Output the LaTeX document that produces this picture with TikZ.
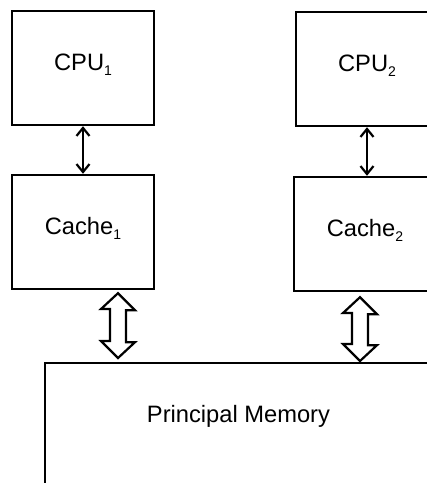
\documentclass[tikz,border=0pt]{standalone}
\usepackage{fontspec}
\setmainfont{Liberation Sans}
\usetikzlibrary{calc,arrows.meta}

\newcommand\lowsub[1]{\raisebox{-5pt}{\fontsize{14}{14}\selectfont #1}}

\tikzset{
  unit/.style={draw,line width=2.4pt,minimum width=142pt,minimum height=114pt,
    text height=19pt,text depth=15pt,inner sep=0pt,
    font=\fontsize{23.7}{28}\selectfont},
  link/.style={line width=2.2pt,
    {Straight Barb[length=8pt,width=13pt]}-{Straight Barb[length=8pt,width=13pt]}},
  bus/.style={draw,line width=2.2pt,fill=white,line join=miter}
}

\begin{document}
\begin{tikzpicture}[x=1pt,y=-1pt]
      \useasboundingbox (0,0) rectangle (427,483);
      \clip (0,0) rectangle (427,483);

      \node[unit] (cpu1) at (83,68) {CPU\lowsub{1}};
      \node[unit] (cpu2) at (367,69) {CPU\lowsub{2}};
      \node[unit] (cache1) at (83,232) {Cache\lowsub{1}};
      \node[unit] (cache2) at (365,234) {Cache\lowsub{2}};
      \node[unit,anchor=north,minimum width=387pt,minimum height=0pt,
        text height=17pt,text depth=100pt,inner ysep=42pt] (mem) at (238.5,362) {Principal Memory};

      \draw[link] (cpu1) -- (cache1);
      \draw[link] (cpu2.south) -- (cpu2.south |- cache2.north);

      % wide buses to the memory
      \coordinate (bus1a) at ($(cache1.south)+(35,3)$);
      \coordinate (bus1b) at ($(bus1a |- mem.north)+(0,-4)$);
      \coordinate (bus2a) at ($(cache2.south)+(-5,5)$);
      \coordinate (bus2b) at ($(bus2a |- mem.north)+(0,-1)$);
      \draw[bus] (bus1a) -- ++(17,17) -- ++(-9,0) -- ++(0,32) -- ++(9,0) -- (bus1b)
        -- ++(-17,-17) -- ++(9,0) -- ++(0,-32) -- ++(-9,0) -- cycle;
      \draw[bus] (bus2a) -- ++(17,17) -- ++(-9,0) -- ++(0,31) -- ++(9,0) -- (bus2b)
        -- ++(-17,-17) -- ++(9,0) -- ++(0,-31) -- ++(-9,0) -- cycle;
\end{tikzpicture}
\end{document}
